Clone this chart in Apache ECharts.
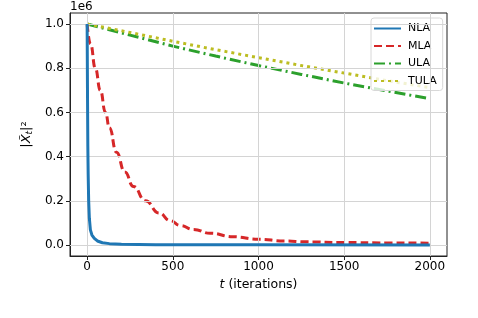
<!DOCTYPE html>
<html>
<head>
<meta charset="utf-8">
<script src="https://cdn.jsdelivr.net/npm/echarts@6/dist/echarts.min.js"></script>
<style>html,body{margin:0;padding:0;background:#fff}#c{width:478px;height:318px}</style>
</head>
<body>
<div id="c"></div>
<script>
// Data (values in units of 1e6)
const nlaT = [0, 1, 2, 4, 6, 9, 13, 19, 28, 42, 60, 89, 130, 200, 400, 1000, 2000];
const nlaV = [1.0, 0.85, 0.7, 0.45, 0.32, 0.2, 0.12, 0.068, 0.045, 0.03, 0.018, 0.01, 0.006, 0.003, 0.001, 0.0005, 0.0003];
const mlaT = [0, 20, 48, 77, 107, 130, 171, 220, 270, 340, 420, 485, 544, 620, 719, 850, 1000, 1150, 1282, 1500, 1750, 2000];
const mlaV = [1.0, 0.91, 0.80, 0.70, 0.60, 0.53, 0.42, 0.33, 0.265, 0.20, 0.145, 0.11, 0.088, 0.07, 0.053, 0.037, 0.026, 0.018, 0.014, 0.011, 0.009, 0.008];
const ulaT = [0, 250, 500, 750, 1000, 1250, 1500, 1750, 2000];
const ulaV = [1.0, 0.95, 0.90, 0.855, 0.812, 0.772, 0.733, 0.697, 0.662];
const tulaT = [0, 250, 500, 750, 1000, 1250, 1500, 1750, 2000];
const tulaV = [1.0, 0.962, 0.922, 0.884, 0.848, 0.812, 0.778, 0.744, 0.712];
const xTicks = [0, 500, 1000, 1500, 2000];
const yTicks = [0.0, 0.2, 0.4, 0.6, 0.8, 1.0];
const seriesNames = ['NLA', 'MLA', 'ULA', 'TULA'];

const zip = (a, b) => a.map((v, i) => [v, b[i]]);
const FONT = 'DejaVu Sans';

const chart = echarts.init(document.getElementById('c'), null, {renderer: 'canvas'});
const grid = {left: 70, right: 31, top: 13, bottom: 62, show: true, borderColor: '#222', borderWidth: 1, backgroundColor: 'transparent'};
const gridLineStyle = {color: '#d4d4d4', width: 1, type: 'solid'};

const option = {
  animation: false,
  textStyle: {fontFamily: FONT},
  grid: grid,
  xAxis: {
    type: 'value', min: -100, max: 2100,
    splitLine: {show: false},
    axisLine: {show: true, onZero: false, lineStyle: {color: '#222'}},
    axisTick: {show: true, length: 4, customValues: xTicks, lineStyle: {color: '#222'}},
    axisLabel: {customValues: xTicks, fontSize: 12, color: '#000', margin: 5, fontFamily: FONT, formatter: v => String(v)},
    name: '{i|t} (iterations)',
    nameLocation: 'middle', nameGap: 19,
    nameTextStyle: {fontSize: 12.5, color: '#000', fontFamily: FONT, rich: {i: {fontStyle: 'italic', fontSize: 12.5, fontFamily: FONT}}}
  },
  yAxis: {
    type: 'value', min: -0.05, max: 1.05,
    splitLine: {show: false},
    axisLine: {show: true, onZero: false, lineStyle: {color: '#222'}},
    axisTick: {show: true, length: 4, customValues: yTicks, lineStyle: {color: '#222'}},
    axisLabel: {customValues: yTicks, fontSize: 12, color: '#000', margin: 6, fontFamily: FONT, formatter: v => v.toFixed(1)},
    name: '|{i|X\u0303}{s|t}|\u00b2',
    nameLocation: 'middle', nameGap: 34, nameRotate: 90,
    nameTextStyle: {fontSize: 13, color: '#000', fontFamily: FONT,
      rich: {i: {fontStyle: 'italic', fontSize: 13, fontFamily: FONT}, s: {fontStyle: 'italic', fontSize: 9, fontFamily: FONT, verticalAlign: 'bottom', padding: [6, 0, 0, 0]}}}
  },
  legend: {
    data: seriesNames,
    orient: 'vertical', left: 371, top: 18,
    itemWidth: 27, itemHeight: 10, itemGap: 6.5,
    padding: [5, 6, 4, 2],
    itemStyle: {opacity: 0},
    backgroundColor: 'rgba(255,255,255,0.8)', borderColor: '#d8d8d8', borderWidth: 1, borderRadius: 3,
    textStyle: {fontSize: 11, color: '#000', fontFamily: FONT, padding: [0, 0, 0, 2]}
  },
  graphic: [{type: 'text', left: 70, top: 1, style: {text: '1e6', fontSize: 12, fontFamily: FONT, fill: '#000'}}],
  series: [
    {
      name: 'grid', type: 'line', data: [], z: 1, silent: true,
      markLine: {
        silent: true, symbol: ['none', 'none'], label: {show: false}, animation: false,
        lineStyle: gridLineStyle, emphasis: {disabled: true},
        data: xTicks.map(v => ({xAxis: v})).concat(yTicks.map(v => ({yAxis: v})))
      }
    },
    {name: 'NLA', type: 'line', data: zip(nlaT, nlaV), showSymbol: false, symbol: 'none', z: 5,
      lineStyle: {color: '#1f77b4', width: 3}, itemStyle: {color: '#1f77b4'}},
    {name: 'MLA', type: 'line', data: zip(mlaT, mlaV), showSymbol: false, symbol: 'none', z: 4, smooth: true, smoothMonotone: 'x',
      lineStyle: {color: '#d62728', width: 3, type: [8, 4]}, itemStyle: {color: '#d62728'}},
    {name: 'ULA', type: 'line', data: zip(ulaT, ulaV), showSymbol: false, symbol: 'none', z: 3,
      lineStyle: {color: '#2ca02c', width: 3, type: [11, 4, 2, 4]}, itemStyle: {color: '#2ca02c'}},
    {name: 'TULA', type: 'line', data: zip(tulaT, tulaV), showSymbol: false, symbol: 'none', z: 3,
      lineStyle: {color: '#bcbd22', width: 3, type: [3, 4]}, itemStyle: {color: '#bcbd22'}}
  ]
};
chart.setOption(option);
</script>
</body>
</html>
